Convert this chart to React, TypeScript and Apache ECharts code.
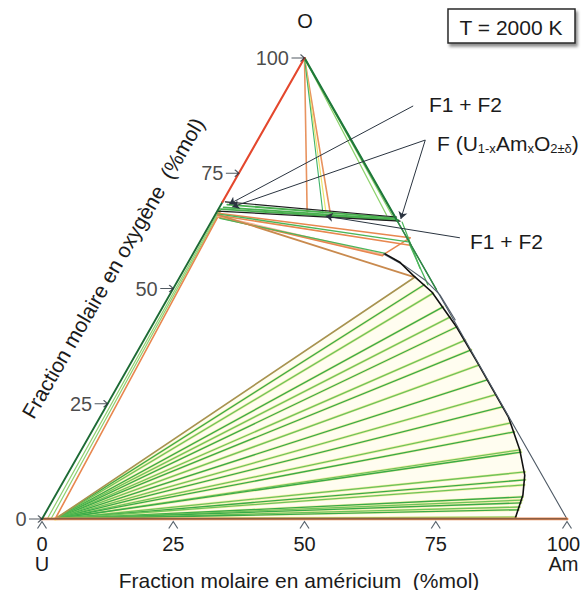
import React, { useEffect, useRef } from "react";
import * as echarts from "echarts";

type P = [number, number]; // [americium %, oxygen %]

const amTicks = [0, 25, 50, 75, 100];
const oTicks = [0, 25, 50, 75, 100];

const cornerU: P = [0, 0];
const cornerAm: P = [100, 0];
const cornerO: P = [0, 100];
const fLeft: P = [0, 68.8];
const fRight: P = [35.2, 64.8];
const rightGreenEnd: P = [50.2, 49.8];

// O + F tie lines (from the O corner)
const topGreenEnds: P[] = [[32.7, 65.9], [34.1, 65.5]];
const topOrangeEnds: P[] = [[17.2, 66.6], [21.7, 66.4]];
const topThinGreenEnds: P[] = [[20.3, 66.4]];

// F single-phase band and F1 + F2 tie lines
const fUpper: P[] = [[0.5, 68.8], [34.8, 65.5]];
const fLower: P[] = [[0, 66.8], [35.9, 64.6]];
const fBandTies: [P, P][] = [
  [[1.2, 68.2], [34.5, 65.3]],
  [[0.8, 67.6], [35.0, 65.0]],
  [[0.5, 67.2], [35.5, 64.8]],
];

// tie lines below the F band
const lowerOrange: [P, P][] = [
  [[0, 66.4], [39.6, 61.0]],
  [[0.5, 65.9], [40.4, 59.4]],
  [[1.0, 65.4], [36.3, 57.1]],
  [[36.3, 57.3], [39.6, 61.0]],
];
const lowerGreen: [P, P][] = [
  [[0.3, 66.2], [39.7, 60.1]],
  [[1.3, 65.2], [36.6, 57.6]],
  [[36.4, 64.4], [44.8, 54.4]],
  [[40.1, 59.7], [48.1, 50.8]],
];
const lowerPink: [P, P][] = [[[0.8, 65.6], [36.3, 57.3]]];
const threePhaseEdge: [P, P] = [[0.5, 66.0], [44.5, 52.5]];

// U + F tie lines along the U-O side
const leftOrange: [P, P] = [[2.5, 0], [0.7, 66.4]];
const leftGreens: [P, P][] = [
  [[1.0, 0], [0.3, 67.3]],
  [[1.7, 0], [0.5, 67.0]],
];

// fan of tie lines from the U-rich phase
const fanOrigin: P = [2.5, 0];
const fanTop: P = [44.8, 52.5];
const fanEnds: P[] = [
  [47.4, 50.8], [50.0, 49.0], [53.4, 46.0], [55.8, 43.8], [58.2, 41.7],
  [61.2, 38.8], [63.4, 36.7], [66.5, 33.4], [69.7, 30.2], [72.8, 26.9],
  [75.5, 24.3], [78.7, 20.8], [80.5, 18.9], [83.6, 15.0], [84.0, 14.5],
  [86.9, 10.2], [87.8, 8.5], [88.2, 7.4], [89.2, 4.8], [89.4, 4.1],
  [89.5, 3.5], [89.7, 2.6], [89.8, 2.0], [90.1, 0.4],
];

// phase boundaries
const boundaryCurve: P[] = [
  [36.6, 57.5], [40.3, 55.7], [44.2, 52.9], [49.7, 49.2], [58.2, 41.6],
  [66.1, 33.8], [70.8, 29.1], [77.8, 22.1], [83.5, 15.0], [87.2, 9.5],
  [89.0, 5.2], [90.1, 0],
];
const grayCurve: P[] = [[36.3, 57.5], [41.7, 54.9], [47.1, 51.8], [51.5, 48.6], [57.1, 43.2]];

// annotation pointers
const pointers: [P, P][] = [
  [[25.9, 89.6], [1.5, 68.3]],
  [[31.9, 82.2], [2.4, 67.7]],
  [[31.9, 82.2], [35.8, 65.1]],
  [[49.1, 61.0], [21.2, 65.7]],
];

const FONT = '"Liberation Sans", Arial, Helvetica, sans-serif';
const TXT = "#1b1b1b";

const xy = (p: P) => [p[0] + p[1] / 2, p[1]];
const segs = (list: [P, P][]) => list.map(([a, b]) => ({ coords: [xy(a), xy(b)] }));
const poly = (pts: P[]) => [{ coords: pts.map(xy) }];

const L = (data: any[], color: string, width: number, z: number, extra: any = {}) => ({
  type: "lines",
  coordinateSystem: "cartesian2d",
  polyline: true,
  silent: true,
  z,
  symbol: "none",
  lineStyle: { color, width, opacity: 1, cap: "round" },
  data,
  ...extra,
});

function buildOption(): any {
  const fanData = fanEnds.map((e, i) => ({
    coords: [xy(fanOrigin), xy(e)],
    lineStyle: { color: i % 2 === 0 ? "#3aaa48" : "#6fc35a", width: 1.3, opacity: 1 },
  }));
  const fanHalo = fanEnds.map((e) => ({ coords: [xy(fanOrigin), xy(e)] }));
  const fillPts: P[] = [fanOrigin, fanTop, ...boundaryCurve.slice(2)];

  const series: any[] = [
    {
      type: "custom",
      coordinateSystem: "cartesian2d",
      silent: true,
      z: 1,
      data: [[0, 0]],
      renderItem: (_params: any, api: any) => ({
        type: "polygon",
        shape: { points: fillPts.map((p) => api.coord(xy(p))) },
        style: { fill: "#fffdf0" },
      }),
    },
    L(fanHalo, "#f4f0ad", 2.6, 2),
    L(fanData, "#3aaa48", 1.3, 3),
    L(segs([[fanOrigin, fanTop]]), "#a89350", 1.6, 4),
    // U + F side
    L(segs(leftGreens), "#8fd070", 1.2, 3),
    L(segs([leftOrange]), "#e8874f", 1.6, 3),
    // O + F triangle
    L(segs(topGreenEnds.map((e) => [cornerO, e] as [P, P])), "#8fd36f", 1.3, 3),
    L(segs(topOrangeEnds.map((e) => [cornerO, e] as [P, P])), "#e8935f", 1.6, 3),
    L(segs(topThinGreenEnds.map((e) => [cornerO, [e[0] + 0.6, e[1]]] as [P, P])), "#ece46e", 1.2, 3),
    L(segs(topThinGreenEnds.map((e) => [cornerO, e] as [P, P])), "#3fb36a", 1.1, 3),
    // below the F band
    L(segs(lowerPink), "#f5b194", 2.4, 3),
    L(segs(lowerOrange), "#e8874f", 1.5, 3),
    L(segs(lowerGreen), "#4bb65a", 1.3, 3),
    L(segs([threePhaseEdge]), "#c98a4e", 1.8, 4),
    // F band
    L(segs(fBandTies), "#49b04f", 1.8, 4),
    L(poly(fUpper), "#1d1d1d", 1.1, 5),
    L(poly(fLower), "#1d1d1d", 1.2, 5),
    // boundaries
    L(poly(grayCurve), "#56606b", 1.1, 5),
    L(poly(boundaryCurve), "#111111", 1.6, 5),
    // triangle edges
    L(poly([cornerO, cornerAm]), "#4f5a66", 1.1, 6),
    L(poly([cornerO, fRight]), "#1f7a3a", 2.2, 6),
    L(poly([fRight, rightGreenEnd]), "#2e8b45", 1.5, 6),
    L(poly([cornerU, cornerAm]), "#ec8a55", 3, 6),
    L(poly([cornerU, cornerAm]), "#2b3535", 1.2, 7),
    L(poly([cornerU, fLeft]), "#1d6b35", 1.9, 6),
    L(poly([fLeft, cornerO]), "#e4472d", 2.1, 6),
    // pointers
    {
      type: "lines",
      coordinateSystem: "cartesian2d",
      polyline: false,
      silent: true,
      z: 9,
      symbol: ["none", "arrow"],
      symbolSize: 7,
      lineStyle: { color: "#2a3440", width: 1, opacity: 1 },
      data: segs(pointers),
    },
    // base chevron ticks
    {
      type: "scatter",
      silent: true,
      clip: false,
      z: 9,
      symbol: "path://M0,8 L5,0 L10,8",
      symbolSize: [9, 7],
      symbolOffset: [0, 6],
      itemStyle: { color: "none", borderColor: "#2f3d4a", borderWidth: 1 },
      data: amTicks.map((a) => xy([a, 0])),
    },
    // oxygen arrow ticks
    {
      type: "scatter",
      silent: true,
      clip: false,
      z: 9,
      symbol: "path://M0,5 L13,5 M9,1 L13,5 L9,9",
      symbolSize: [13, 7],
      symbolOffset: [-6.5, 0],
      itemStyle: { color: "none", borderColor: "#26303a", borderWidth: 1.1 },
      data: oTicks.map((o) => xy([0, o])),
    },
    {
      type: "scatter",
      silent: true,
      clip: false,
      z: 9,
      symbolSize: 1,
      itemStyle: { color: "rgba(0,0,0,0)" },
      label: {
        show: true,
        position: "left",
        distance: 15,
        formatter: "{b}",
        fontSize: 20,
        fontFamily: FONT,
        color: TXT,
      },
      data: oTicks.map((o) => ({ name: String(o), value: xy([0, o]) })),
    },
  ];

  return {
    animation: false,
    backgroundColor: "#ffffff",
    grid: { left: 42, top: 58, width: 525, height: 461, containLabel: false, outerBoundsMode: "none" },
    xAxis: {
      type: "value",
      min: 0,
      max: 100,
      interval: 25,
      axisLine: { show: false },
      axisTick: { show: false },
      splitLine: { show: false },
      axisLabel: {
        show: true,
        showMinLabel: true,
        showMaxLabel: true,
        margin: 15,
        fontSize: 20,
        lineHeight: 20,
        fontFamily: FONT,
        color: TXT,
        formatter: (v: number) =>
          v === 0 ? "0\nU" : v === 100 ? "{r|100}\n{r|Am}" : String(v),
        rich: {
          r: { fontSize: 20, lineHeight: 20, fontFamily: FONT, color: TXT, padding: [0, 7, 0, 0] },
        },
      },
    },
    yAxis: { type: "value", min: 0, max: 100, show: false },
    series,
    graphic: [
      {
        type: "text",
        x: 305,
        y: 21,
        style: { text: "O", fontSize: 20, fontFamily: FONT, fill: TXT, align: "center", verticalAlign: "middle" },
      },
      {
        type: "text",
        x: 299,
        y: 580,
        style: {
          text: "Fraction molaire en américium  (%mol)",
          fontSize: 21,
          fontFamily: FONT,
          fill: TXT,
          align: "center",
          verticalAlign: "middle",
        },
      },
      {
        type: "text",
        x: 113,
        y: 268,
        rotation: (60 * Math.PI) / 180,
        style: {
          text: "Fraction molaire en oxygène  (%mol)",
          fontSize: 21,
          fontFamily: FONT,
          fill: TXT,
          align: "center",
          verticalAlign: "middle",
        },
      },
      {
        type: "rect",
        shape: { x: 448, y: 9, width: 127, height: 34 },
        style: {
          fill: "#ffffff",
          stroke: "#2a2a2a",
          lineWidth: 1.5,
          shadowColor: "rgba(0,0,0,0.45)",
          shadowBlur: 3,
          shadowOffsetX: 2,
          shadowOffsetY: 3,
        },
      },
      {
        type: "text",
        x: 511,
        y: 27,
        style: { text: "T = 2000 K", fontSize: 21, fontFamily: FONT, fill: TXT, align: "center", verticalAlign: "middle" },
      },
      {
        type: "text",
        x: 429,
        y: 104,
        style: { text: "F1 + F2", fontSize: 21, fontFamily: FONT, fill: TXT, align: "left", verticalAlign: "middle" },
      },
      {
        type: "text",
        x: 470,
        y: 241,
        style: { text: "F1 + F2", fontSize: 21, fontFamily: FONT, fill: TXT, align: "left", verticalAlign: "middle" },
      },
      {
        type: "text",
        x: 437,
        y: 143,
        style: {
          text: "{n|F (U}{s|1-x}{n|Am}{s|x}{n|O}{s|2±δ}{n|)}",
          align: "left",
          verticalAlign: "middle",
          fill: TXT,
          rich: {
            n: { fontSize: 21, fontFamily: FONT, fill: TXT },
            s: { fontSize: 13, fontFamily: FONT, fill: TXT, padding: [11, 0, 0, 0] },
          },
        },
      },
    ],
  };
}

export default function App() {
  const ref = useRef<HTMLDivElement>(null);
  useEffect(() => {
    if (!ref.current) return;
    const chart = echarts.init(ref.current, undefined, { renderer: "svg" });
    chart.setOption(buildOption());
    return () => chart.dispose();
  }, []);
  return (
    <div
      ref={ref}
      style={{ position: "fixed", left: 0, top: 0, width: 581, height: 590, background: "#fff" }}
    />
  );
}
